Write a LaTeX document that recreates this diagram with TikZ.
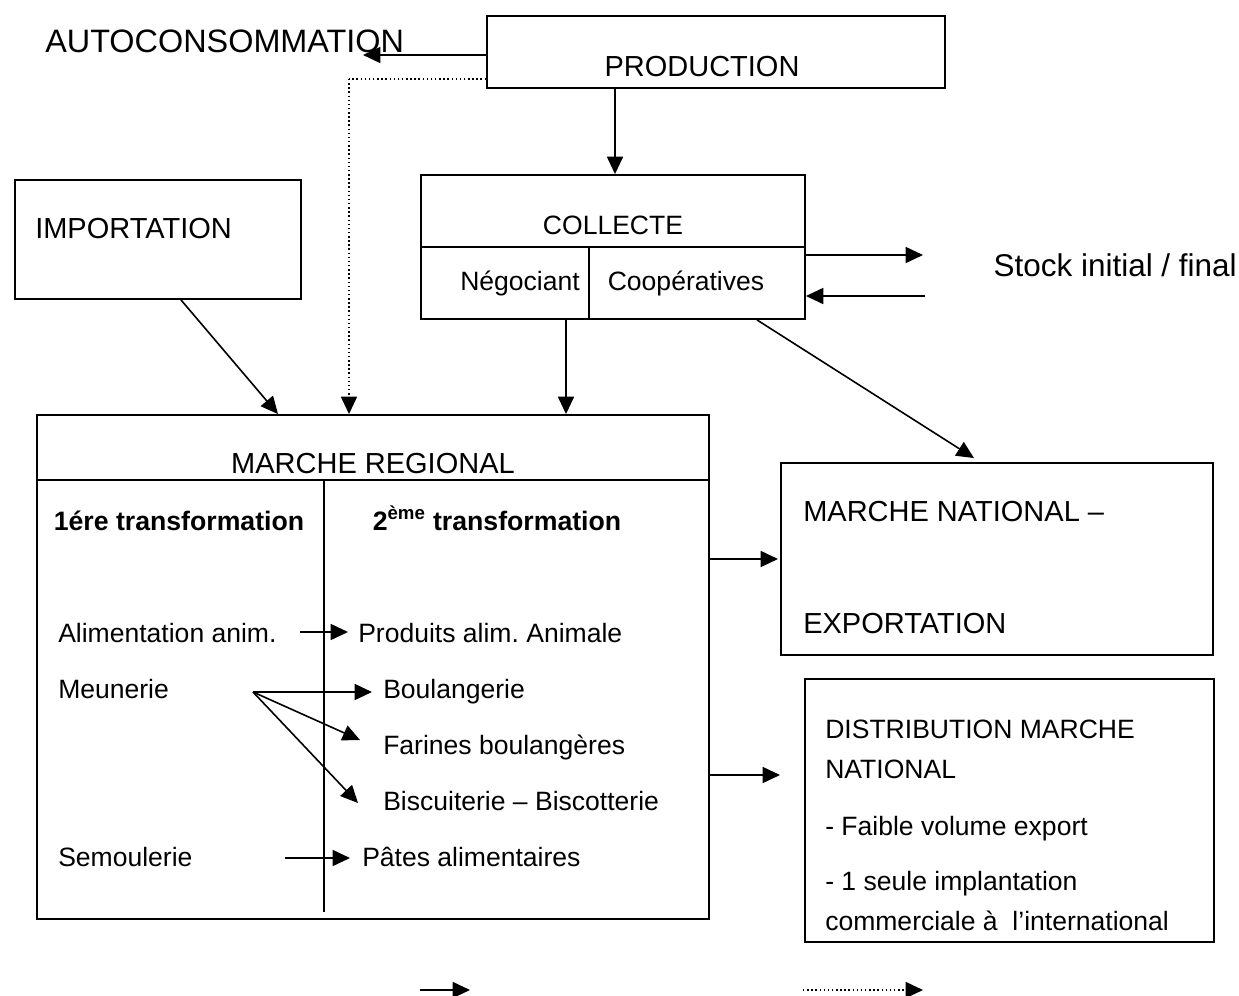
\documentclass[tikz,border=0pt]{standalone}
\usepackage{fontspec}
\setmainfont{Liberation Sans}
\usetikzlibrary{arrows.meta}
\frenchspacing
\begin{document}
\begin{tikzpicture}[x=0.75pt,y=-0.75pt,
  box/.style={draw,line width=1.4pt,rectangle,inner sep=0pt},
  arr/.style={line width=1.2pt,-{Triangle[length=13pt,width=12pt]}},
  thin/.style={line width=1.1pt},
  dotl/.style={line width=1.1pt,dotted},
  dotarr/.style={line width=1.1pt,dotted,-{Triangle[length=13pt,width=12pt]}},
  divl/.style={line width=1.4pt},
  bigt/.style={font=\fontsize{24.3}{28}\selectfont,inner sep=0pt,anchor=base west},
  midt/.style={font=\fontsize{21.75}{26}\selectfont,inner sep=0pt,anchor=base west},
  txt/.style={font=\fontsize{19.9}{24}\selectfont,inner sep=0pt,anchor=base west},
  bld/.style={font=\bfseries\fontsize{20}{24}\selectfont,inner sep=0pt,anchor=base west}]
\useasboundingbox (0,0) rectangle (1239,996);

% boxes
\node[box,minimum width={458*0.75pt},minimum height={72*0.75pt}] (prod) at (716,52) {};
\node[box,minimum width={384*0.75pt},minimum height={144*0.75pt}] (coll) at (613,247) {};
\node[box,minimum width={286*0.75pt},minimum height={119*0.75pt}] (imp) at (158,239.5) {};
\node[box,minimum width={672*0.75pt},minimum height={504*0.75pt}] (mreg) at (373,667) {};
\node[box,minimum width={432*0.75pt},minimum height={192*0.75pt}] (mnat) at (997,559) {};
\node[box,minimum width={409*0.75pt},minimum height={263*0.75pt}] (dist) at (1009.5,810.5) {};

% dividers
\draw[divl] (coll.west) -- (coll.east);
\coordinate (cv) at (589,247);
\draw[divl] (cv) -- (cv |- coll.south);
\coordinate (mh) at (37,480);
\draw[divl] (mreg.west |- mh) -- (mreg.east |- mh);
\coordinate (mv1) at (324,480);
\coordinate (mv2) at (324,912);
\draw[divl] (mv1) -- (mv2);

% texts
\node[bigt] (auto) at (45,52) {AUTOCONSOMMATION};
\node[midt,anchor=base] (prodt) at (702,76) {PRODUCTION};
\node[txt,anchor=base] (collt) at (613,234) {COLLECTE};
\node[txt,anchor=base] (nego) at (520,290) {Négociant};
\node[txt,anchor=base] (coop) at (686,290) {Coopératives};
\node[bigt,font=\fontsize{23.6}{28}\selectfont,anchor=base east] (stock) at (1237,276) {Stock initial / final};
\node[midt] (impt) at (35,238) {IMPORTATION};
\node[midt,anchor=base] (mregt) at (373,473) {MARCHE REGIONAL};
\node[bld,anchor=base] (t1) at (179,530) {1ére transformation};
\node[bld,anchor=base] (t2) at (497,530) {2\textsuperscript{ème} transformation};
\node[txt] (alim) at (58,642) {Alimentation anim.};
\node[txt] (prodan) at (358,642) {Produits alim. Animale};
\node[txt] (meun) at (58,698) {Meunerie};
\node[txt] (boul) at (383,698) {Boulangerie};
\node[txt] (far) at (383,754) {Farines boulangères};
\node[txt] (bisc) at (383,810) {Biscuiterie – Biscotterie};
\node[txt] (semo) at (58,866) {Semoulerie};
\node[txt] (pates) at (362,866) {Pâtes alimentaires};
\node[midt] (mnat1) at (803,521) {MARCHE NATIONAL –};
\node[midt] (mnat2) at (803,633) {EXPORTATION};
\node[txt] (d1) at (825,738) {DISTRIBUTION MARCHE};
\node[txt] (d2) at (825,778) {NATIONAL};
\node[txt] (d3) at (825,835) {- Faible volume export};
\node[txt] (d4) at (825,890) {- 1 seule implantation};
\node[txt] (d5) at (825,930) {commerciale à~ l’international};

% connectors
\coordinate (autotip) at (363,55);
\draw[arr] (prod.west |- autotip) -- (autotip);
\coordinate (dt) at (349,79);
\draw[dotl] (prod.west |- dt) -- (dt);
\draw[dotarr] (dt) -- (dt |- mreg.north);
\coordinate (pc) at (615,100);
\draw[arr] (prod.south -| pc) -- (coll.north -| pc);
\coordinate (s1) at (923,255);
\draw[arr] (coll.east |- s1) -- (s1);
\coordinate (s2) at (925,296);
\draw[arr] (s2) -- (coll.east |- s2);
\coordinate (i1) at (181,300);
\coordinate (i2) at (278,300);
\draw[arr] (imp.south -| i1) -- (mreg.north -| i2);
\coordinate (n1) at (566,330);
\draw[arr] (coll.south -| n1) -- (mreg.north -| n1);
\coordinate (n2) at (757,330);
\coordinate (n3) at (974,330);
\draw[arr] (coll.south -| n2) -- ([yshift=3pt]mnat.north -| n3);
\coordinate (m1) at (778,559);
\draw[arr] (mreg.east |- m1) -- (m1);
\coordinate (m2) at (780,775);
\draw[arr] (mreg.east |- m2) -- (m2);
\coordinate (a1) at (300,632);
\coordinate (a2) at (348,632);
\draw[arr] (a1) -- (a2);
\coordinate (mu) at (253,692);
\coordinate (b1) at (372,692);
\coordinate (b2) at (360,740);
\coordinate (b3) at (358,803);
\draw[arr] (mu) -- (b1);
\draw[arr] (mu) -- (b2);
\draw[arr] (mu) -- (b3);
\coordinate (e1) at (285,858);
\coordinate (e2) at (350,858);
\draw[arr] (e1) -- (e2);
% legend
\coordinate (l1) at (420,990);
\coordinate (l2) at (470,990);
\draw[arr] (l1) -- (l2);
\coordinate (l3) at (803,990);
\coordinate (l4) at (923,990);
\draw[dotarr] (l3) -- (l4);
\end{tikzpicture}
\end{document}
